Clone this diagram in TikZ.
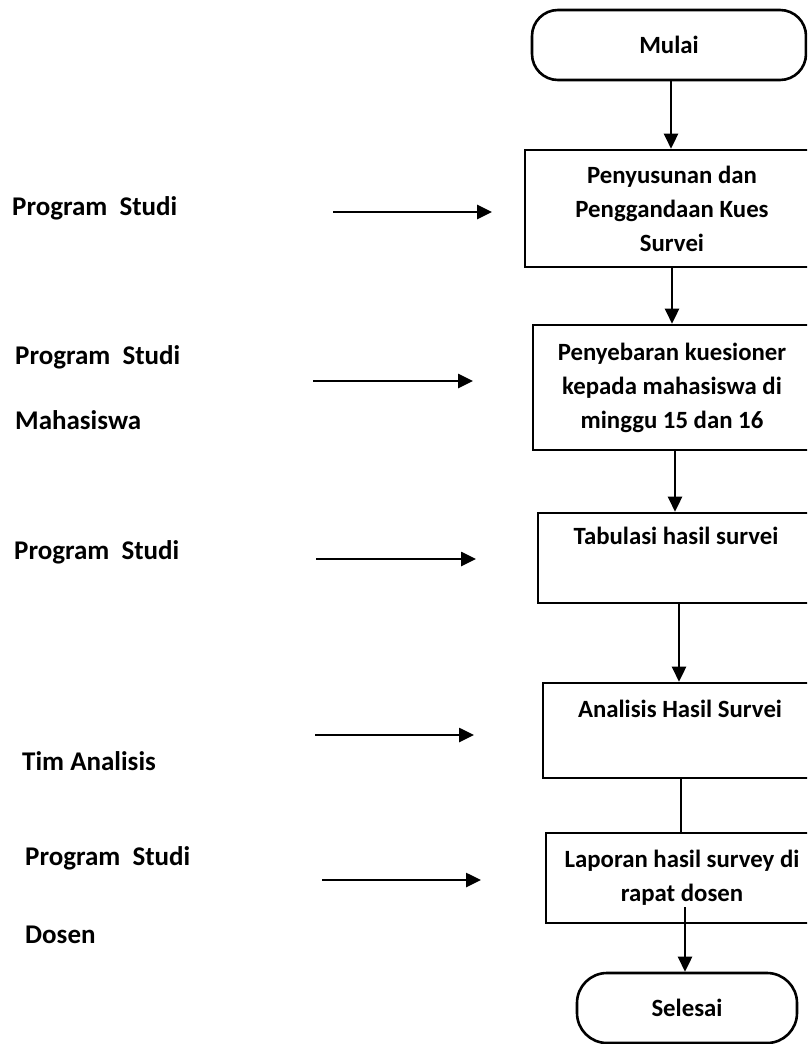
\documentclass[tikz,border=0pt]{standalone}
\usepackage{fontspec}
\setmainfont{Carlito}
\usetikzlibrary{arrows.meta,positioning}
\tikzset{
  every node/.style={font=\fontsize{24.8}{34}\selectfont\bfseries},
  proc/.style={draw,line width=2.6pt,align=center,inner sep=0pt},
  term/.style={draw,line width=2.6pt,rounded corners=26pt,inner sep=0pt},
  lbl/.style={anchor=west,font=\fontsize{27}{30}\selectfont\bfseries,inner sep=0pt},
  arr/.style={line width=2.6pt,-{Triangle[length=15pt,width=14pt]}},
  plain/.style={line width=2.6pt}
}
\begin{document}
\begin{tikzpicture}[x=1pt,y=-1pt]
\clip (0,0) rectangle (807,1044);
\fill[white] (0,0) rectangle (807,1044);
% flow boxes
\node[term,minimum width=274pt,minimum height=70pt] (mulai) at (669,45) {Mulai};
\node[proc,minimum width=294pt,minimum height=117pt] (b1) at (672,208.5) {Penyusunan dan\\Penggandaan Kues\\Survei};
\node[proc,minimum width=278pt,minimum height=125pt] (b2) at (672,387.5) {Penyebaran kuesioner\\kepada mahasiswa di\\minggu 15 dan 16};
\node[proc,minimum width=276pt,minimum height=90pt] (b3) at (676,558) {Tabulasi hasil survei\\\strut};
\node[proc,minimum width=274pt,minimum height=95pt] (b4) at (680,730.5) {Analisis Hasil Survei\\\strut};
\node[proc,minimum width=272pt,minimum height=90pt] (b5) at (682,878) {Laporan hasil survey di\\rapat dosen};
\node[term,minimum width=220pt,minimum height=70pt,rounded corners=30pt] (selesai) at (687,1008) {Selesai};
% vertical connectors
\coordinate (c1) at (671,80);
\coordinate (c2) at (675,450);
\coordinate (c3) at (679,603);
\coordinate (c4) at (681,778);
\coordinate (c5) at (685,907);
\draw[arr] (c1) -- (c1 |- b1.north);
\draw[arr] (b1.south) -- (b1.south |- b2.north);
\draw[arr] (c2) -- (c2 |- b3.north);
\draw[arr] (c3) -- (c3 |- b4.north);
\draw[plain] (c4) -- (c4 |- b5.north);
\draw[arr] (c5) -- (c5 |- selesai.north);
% left labels
\node[lbl] (l1) at (12,208) {Program\ \ Studi};
\node[lbl] (l2) at (15,357) {Program\ \ Studi};
\node[lbl] (l3) at (15,420) {Mahasiswa};
\node[lbl] (l4) at (14,552) {Program\ \ Studi};
\node[lbl] (l5) at (22,761) {Tim Analisis};
\node[lbl] (l6) at (25,858) {Program\ \ Studi};
\node[lbl] (l7) at (25,935) {Dosen};
% horizontal arrows
\coordinate (h1a) at (333,212); \coordinate (h1b) at (492,212);
\coordinate (h2a) at (313,381); \coordinate (h2b) at (473,381);
\coordinate (h3a) at (316,559); \coordinate (h3b) at (476,559);
\coordinate (h4a) at (315,735); \coordinate (h4b) at (474,735);
\coordinate (h5a) at (322,880); \coordinate (h5b) at (481,880);
\draw[arr] (h1a) -- (h1b);
\draw[arr] (h2a) -- (h2b);
\draw[arr] (h3a) -- (h3b);
\draw[arr] (h4a) -- (h4b);
\draw[arr] (h5a) -- (h5b);
\end{tikzpicture}
\end{document}
